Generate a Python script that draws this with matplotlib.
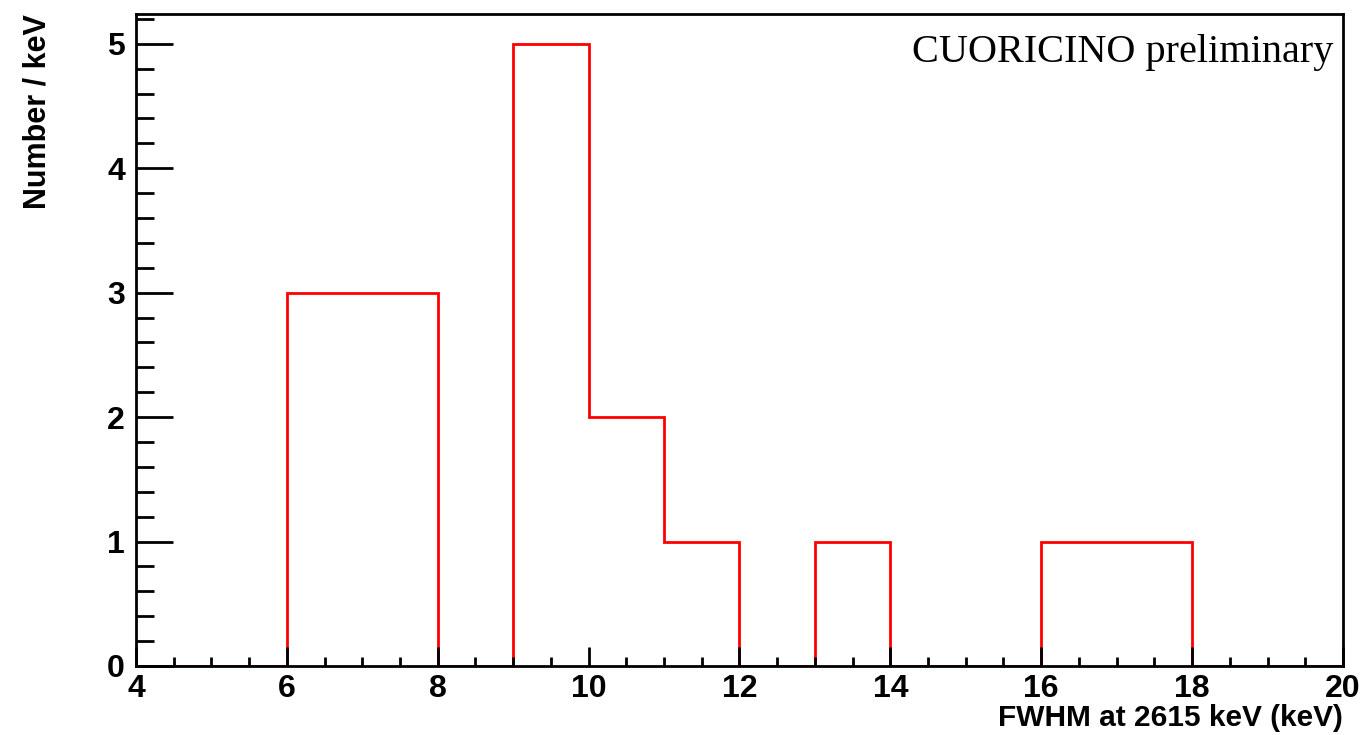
import matplotlib
matplotlib.use("Agg")
import matplotlib.pyplot as plt
import matplotlib.ticker as mticker
import numpy as np

plt.rcParams.update({
    "font.family": "Liberation Sans",
    "font.weight": "bold",
})

# FWHM histogram, 1 keV bins from 4 to 20 keV
bin_edges = np.arange(4, 21, 1)
counts = [0, 0, 3, 3, 0, 5, 2, 1, 0, 1, 0, 0, 1, 1, 0, 0]

fig = plt.figure(figsize=(13.67, 7.35), dpi=100)
ax = fig.add_axes([0.0995, 0.0939, 0.8829, 0.8871])

ax.stairs(counts, bin_edges, baseline=0, color="#ff0000", lw=2.0, zorder=1)

ax.set_xlim(4, 20)
ax.set_ylim(0, 5.24)

ax.xaxis.set_major_locator(mticker.MultipleLocator(2))
ax.xaxis.set_minor_locator(mticker.MultipleLocator(0.5))
ax.yaxis.set_major_locator(mticker.MultipleLocator(1))
ax.yaxis.set_minor_locator(mticker.MultipleLocator(0.2))

ax.tick_params(axis="x", which="major", direction="in", length=13.7, width=2,
               labelsize=23, pad=6, top=False)
ax.tick_params(axis="x", which="minor", direction="in", length=6.8, width=2,
               top=False)
ax.tick_params(axis="y", which="major", direction="in", length=26.5, width=2,
               labelsize=23, pad=8, right=False)
ax.tick_params(axis="y", which="minor", direction="in", length=13, width=2,
               right=False)

for s in ax.spines.values():
    s.set_linewidth(2)
    s.set_zorder(3)

ax.set_xlabel("FWHM at 2615 keV (keV)", loc="right", fontsize=21.5, fontweight="bold")
ax.xaxis.set_label_coords(1.0, -0.059)
ax.set_ylabel("Number / keV", loc="top", fontsize=22, fontweight="bold")
ax.yaxis.set_label_coords(-0.069, 1.0)

ax.text(0.9917, 0.926, "CUORICINO preliminary", transform=ax.transAxes,
        ha="right", va="baseline", fontsize=29, fontweight="normal",
        family="Liberation Serif")

fig.savefig("out.png", dpi=100, facecolor="white")
